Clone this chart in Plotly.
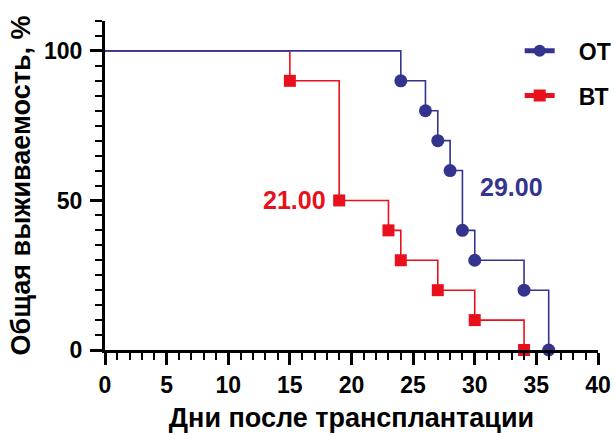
import plotly.graph_objects as go

# Kaplan–Meier survival steps (day, survival %)
ot_days = [0, 24, 26, 27, 28, 29, 30, 34, 36]
ot_surv = [100, 90, 80, 70, 60, 40, 30, 20, 0]
bt_days = [0, 15, 19, 23, 24, 27, 30, 34]
bt_surv = [100, 90, 50, 40, 30, 20, 10, 0]

# median survival labels
ot_median = "29.00"
bt_median = "21.00"

x_ticks = [0, 5, 10, 15, 20, 25, 30, 35, 40]
y_ticks = [0, 50, 100]

BLUE = "#34348f"
RED = "#e8101c"
FONT = "Liberation Sans, Arial, sans-serif"
PAD = "\u00a0\u00a0\u00a0"  # extra gap between legend symbol and its label

fig = go.Figure()

# red curve first so the blue line is drawn on top along the 100% level
fig.add_trace(go.Scatter(
    x=bt_days, y=bt_surv, name=PAD + "ВТ", mode="lines+markers",
    legendgroup="bt", legendrank=2,
    line=dict(shape="hv", color=RED, width=1.6),
    marker=dict(symbol="square", color=RED, opacity=1,
                size=[0] + [12] * (len(bt_days) - 1), line=dict(width=0)),
    cliponaxis=False,
))
fig.add_trace(go.Scatter(
    x=ot_days, y=ot_surv, name=PAD + "ОТ", mode="lines+markers",
    legendgroup="ot", legendrank=1,
    line=dict(shape="hv", color=BLUE, width=1.6),
    marker=dict(symbol="circle", color=BLUE, opacity=1,
                size=[0] + [13] * (len(ot_days) - 1), line=dict(width=0)),
    cliponaxis=False,
))

fig.add_annotation(x=19, y=50, text=bt_median, showarrow=False,
                   xanchor="right", xshift=-11,
                   font=dict(family=FONT, size=25, color=RED, weight="bold"))
fig.add_annotation(x=29, y=54.5, text=ot_median, showarrow=False,
                   xanchor="left", xshift=16,
                   font=dict(family=FONT, size=25, color=BLUE, weight="bold"))

axis_common = dict(
    showgrid=False, zeroline=False, showline=True, linecolor="black", linewidth=3,
    ticks="outside", tickcolor="black", tickwidth=2.5, ticklen=12,
    tickfont=dict(family=FONT, size=23, color="black", weight="bold"),
    automargin=False,
)

fig.update_xaxes(
    range=[0, 40], tickvals=x_ticks, ticktext=[str(v) for v in x_ticks],
    minor=dict(ticks="outside", dtick=1, ticklen=7, tickwidth=2, tickcolor="black"),
    title=dict(text="Дни после трансплантации", standoff=12,
               font=dict(family=FONT, size=27, color="black", weight="bold")),
    **axis_common,
)
fig.update_yaxes(
    range=[0, 110], tickvals=y_ticks, ticktext=[str(v) for v in y_ticks],
    minor=dict(ticks="outside", dtick=5, ticklen=7, tickwidth=2, tickcolor="black"),
    ticklabelstandoff=3,
    title=dict(text="Общая выживаемость, %", standoff=6,
               font=dict(family=FONT, size=27, color="black", weight="bold")),
    **axis_common,
)

fig.update_layout(
    width=615, height=436,
    margin=dict(l=105, r=17, t=21, b=86, autoexpand=False),
    paper_bgcolor="white", plot_bgcolor="white",
    legend=dict(xref="container", yref="container",
                x=0.845, y=0.933, xanchor="left", yanchor="top",
                traceorder="grouped", itemsizing="constant",
                itemwidth=30, tracegroupgap=12,
                bgcolor="rgba(0,0,0,0)",
                font=dict(family=FONT, size=23, color="black", weight="bold")),
)

fig.write_html("out.html")
